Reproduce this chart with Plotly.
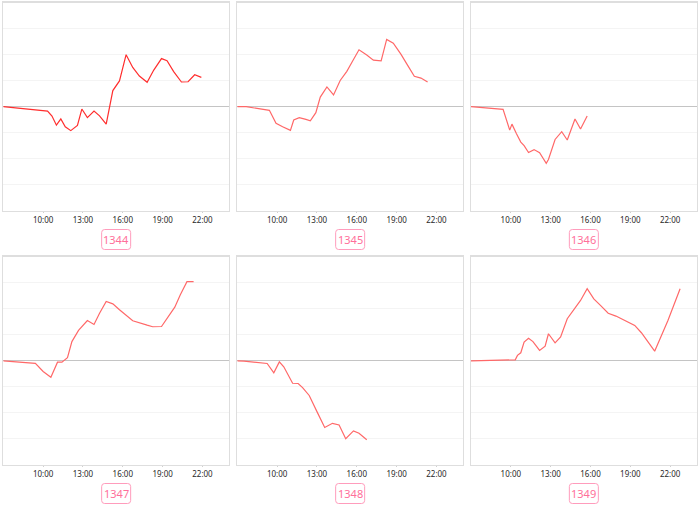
import plotly.graph_objects as go

labels = ["1344", "1345", "1346", "1347", "1348", "1349"]

times_1344 = ["07:00", "10:20", "10:40", "11:00", "11:20", "11:40", "12:05", "12:35", "12:55", "13:20", "13:50", "14:15", "14:45",
              "15:15", "15:45", "16:15", "16:45", "17:15", "17:50", "18:20", "18:55", "19:20", "19:50", "20:25", "20:55", "21:25", "21:55"]
vals_1344 = [0, -0.17, -0.36, -0.71, -0.47, -0.77, -0.92, -0.72, -0.09, -0.42, -0.17, -0.35, -0.67,
             0.62, 0.99, 2.0, 1.51, 1.18, 0.94, 1.41, 1.85, 1.77, 1.35, 0.95, 0.96, 1.23, 1.13]

times_1345 = ["07:00", "07:40", "09:25", "09:55", "10:25", "11:00", "11:15", "11:40", "12:10", "12:30", "12:55", "13:15", "13:45", "14:15",
              "14:45", "15:15", "15:40", "16:10", "16:45", "17:15", "17:50", "18:15", "18:45", "19:20", "19:50", "20:20", "20:50", "21:20"]
vals_1345 = [0, 0, -0.14, -0.64, -0.77, -0.91, -0.51, -0.42, -0.49, -0.54, -0.23, 0.37, 0.76, 0.45,
             1.01, 1.36, 1.74, 2.19, 1.99, 1.79, 1.76, 2.59, 2.44, 2.01, 1.59, 1.17, 1.10, 0.95]

times_1346 = ["07:00", "09:25", "09:55", "10:05", "10:25", "10:45", "11:00", "11:20", "11:45", "12:10", "12:40", "12:50",
              "13:20", "13:50", "14:15", "14:50", "15:15", "15:45"]
vals_1346 = [0, -0.10, -0.90, -0.67, -1.03, -1.36, -1.50, -1.76, -1.65, -1.77, -2.18, -2.03,
             -1.26, -0.96, -1.28, -0.47, -0.86, -0.36]

times_1347 = ["07:00", "09:25", "10:00", "10:35", "11:05", "11:25", "11:50", "12:10", "12:40", "13:20", "13:50", "14:15", "14:45",
              "15:15", "15:45", "16:15", "16:45", "17:50", "18:15", "18:55", "19:25", "19:55", "20:20", "20:50", "21:20"]
vals_1347 = [0, -0.10, -0.41, -0.63, -0.05, -0.05, 0.12, 0.74, 1.17, 1.55, 1.40, 1.83, 2.28,
             2.19, 1.96, 1.74, 1.54, 1.37, 1.31, 1.32, 1.71, 2.06, 2.54, 3.04, 3.04]

times_1348 = ["07:00", "07:30", "09:15", "09:45", "10:10", "10:30", "11:10", "11:35", "11:55", "12:25", "13:00", "13:35",
              "14:10", "14:40", "15:10", "15:45", "16:10", "16:45"]
vals_1348 = [0, -0.01, -0.10, -0.46, -0.04, -0.23, -0.86, -0.87, -1.03, -1.33, -1.95, -2.56,
             -2.40, -2.46, -2.99, -2.69, -2.78, -3.03]

times_1349 = ["07:00", "10:20", "10:30", "10:45", "11:00", "11:20", "11:40", "12:10", "12:35", "12:50", "13:20", "13:45", "14:15",
              "14:45", "15:15", "15:45", "16:15", "16:45", "17:20", "17:55", "19:20", "19:50", "20:50", "21:50", "22:45"]
vals_1349 = [0, 0.04, 0.21, 0.31, 0.72, 0.87, 0.74, 0.40, 0.56, 1.04, 0.69, 0.92, 1.62,
             1.97, 2.32, 2.77, 2.38, 2.13, 1.83, 1.72, 1.36, 1.08, 0.37, 1.55, 2.77]

tick_labels = ["10:00", "13:00", "16:00", "19:00", "22:00"]

series = [
    (times_1344, vals_1344), (times_1345, vals_1345), (times_1346, vals_1346),
    (times_1347, vals_1347), (times_1348, vals_1348), (times_1349, vals_1349),
]
line_colors = ["#ff2e2e", "#ff6868", "#ff6868", "#ff6868", "#ff6868", "#ff6868"]

W, H = 700, 507
DAY = "2024-01-01 "
col_px = [(3.3, 229.0), (237.3, 463.0), (471.0, 696.7)]
row_px = [(2.7, 210.7), (256.7, 465.0)]
label_y_px = [239.5, 493.5]

fig = go.Figure()
shapes = []
annotations = []

for i, ((t, v), lab) in enumerate(zip(series, labels)):
    r, c = divmod(i, 3)
    n = i + 1
    xa = "x" if n == 1 else f"x{n}"
    ya = "y" if n == 1 else f"y{n}"
    fig.add_trace(go.Scatter(
        x=[DAY + s for s in t], y=v, mode="lines",
        line=dict(color=line_colors[i], width=1.2),
        xaxis=xa, yaxis=ya, showlegend=False, hoverinfo="skip"))
    x0, x1 = col_px[c]
    y0, y1 = row_px[r]
    xd = [x0 / W, x1 / W]
    yd = [1 - y1 / H, 1 - y0 / H]
    xkey = "xaxis" if n == 1 else f"xaxis{n}"
    ykey = "yaxis" if n == 1 else f"yaxis{n}"
    fig.update_layout({
        xkey: dict(domain=xd, anchor=ya, type="date",
                   range=[DAY + "07:00", "2024-01-02 00:00"],
                   tickvals=[DAY + s for s in tick_labels], ticktext=tick_labels,
                   showgrid=False, zeroline=False,
                   showline=True, mirror=True, linecolor="#dedede", linewidth=1.3,
                   ticks="outside", ticklen=1, tickcolor="#d0d0d0",
                   tickfont=dict(size=8, color="#2a2a2a", family="Noto Sans")),
        ykey: dict(domain=yd, anchor=xa, range=[-4, 4], dtick=1,
                   showgrid=True, gridcolor="#f4f4f4", gridwidth=1,
                   zeroline=True, zerolinecolor="#c4c4c4", zerolinewidth=1,
                   showline=True, mirror=True, linecolor="#dedede", linewidth=1.3,
                   showticklabels=False, ticks=""),
    })
    cx = (x0 + x1) / 2
    cy = label_y_px[r]
    bw, bh, rad = 29.0, 20.0, 3.0
    L, R = (cx - bw / 2) / W, (cx + bw / 2) / W
    T, B = 1 - (cy - bh / 2) / H, 1 - (cy + bh / 2) / H
    rx, ry = rad / W, rad / H
    path = (f"M {L+rx},{T} L {R-rx},{T} Q {R},{T} {R},{T-ry} L {R},{B+ry} Q {R},{B} {R-rx},{B} "
            f"L {L+rx},{B} Q {L},{B} {L},{B+ry} L {L},{T-ry} Q {L},{T} {L+rx},{T} Z")
    shapes.append(dict(type="path", path=path, xref="paper", yref="paper",
                       line=dict(color="#ff9cbc", width=1), fillcolor="white"))
    annotations.append(dict(text=lab, x=cx / W, y=1 - cy / H, xref="paper", yref="paper",
                            showarrow=False, xanchor="center", yanchor="middle",
                            font=dict(size=11, color="#ff6f9a", family="Noto Sans")))

fig.update_layout(width=W, height=H, margin=dict(l=0, r=0, t=0, b=0),
                  paper_bgcolor="white", plot_bgcolor="white",
                  shapes=shapes, annotations=annotations)

fig.write_html("out.html", config={"displayModeBar": False, "staticPlot": True},
               post_script="document.body.style.margin='0';document.body.style.padding='0';")
